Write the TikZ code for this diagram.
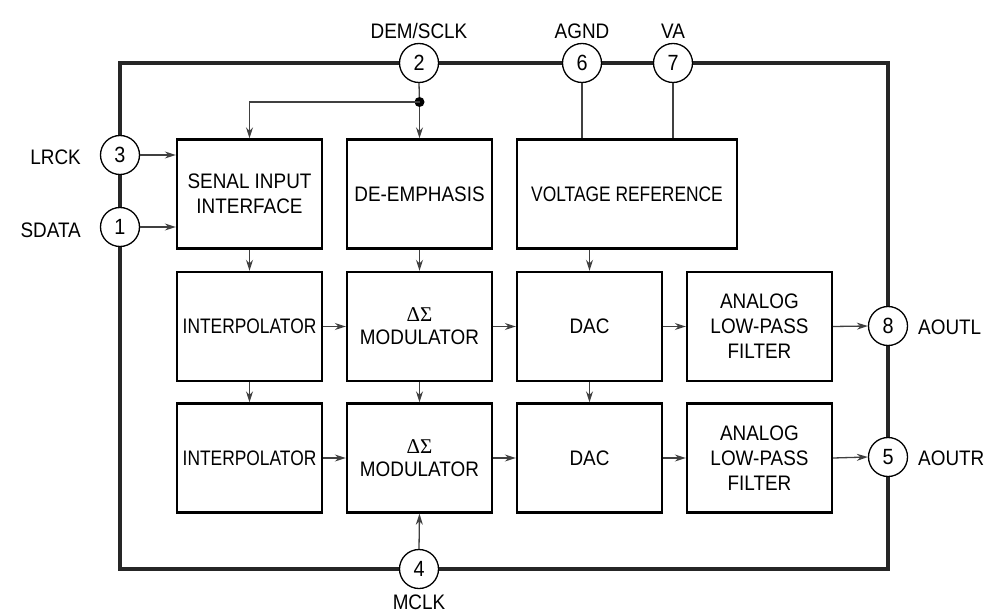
\documentclass[tikz,border=0pt]{standalone}
\usepackage{fontspec}
\setmainfont{Liberation Sans}[FakeStretch=0.9]
\newfontfamily\grk{Liberation Serif}
\usetikzlibrary{arrows.meta}
\begin{document}
\begin{tikzpicture}[x=1pt,y=-1pt,
  blk/.style={draw=black, line width=2.4pt, minimum width=145pt, minimum height=109pt, inner sep=0pt, align=center, font=\fontsize{21}{25}\selectfont, fill=white},
  pin/.style={draw=black, line width=1.3pt, circle, minimum size=39pt, inner sep=0pt, fill=white, font=\fontsize{22}{24}\selectfont},
  lbl/.style={inner sep=0pt, font=\fontsize{21}{24}\selectfont},
  arr/.style={draw=black!75, line width=1.3pt, -{Stealth[length=11pt,width=7pt]}},
  wire/.style={draw=black!75, line width=1.3pt},
  frame/.style={draw=black!85, line width=4.2pt}]
\useasboundingbox (0,0) rectangle (995,612);
\fill[white] (0,0) rectangle (995,612);
% frame
\draw[frame] (120,63) rectangle (888,569);
% pins
\node[pin] (p2) at (419,63) {2};
\node[pin] (p6) at (582,63) {6};
\node[pin] (p7) at (673,63) {7};
\node[pin] (p3) at (120,155) {3};
\node[pin] (p1) at (120,227) {1};
\node[pin] (p8) at (888,326) {8};
\node[pin] (p5) at (888,457) {5};
\node[pin] (p4) at (419,569) {4};
% pin labels
\node[lbl] (l2) at (419,31) {DEM/SCLK};
\node[lbl] (l6) at (582,31) {AGND};
\node[lbl] (l7) at (673,31) {VA};
\node[lbl, anchor=east] (l3) at (81,157) {LRCK};
\node[lbl, anchor=east] (l1) at (81,230) {SDATA};
\node[lbl, anchor=west] (l8) at (918,327) {AOUTL};
\node[lbl, anchor=west] (l5) at (918,458) {AOUTR};
\node[lbl] (l4) at (419,602) {MCLK};
% blocks
\node[blk] (sif) at (249.5,194) {SENAL INPUT\\INTERFACE};
\node[blk] (dem) at (419.5,194) {DE-EMPHASIS};
\node[blk, minimum width=220pt] (vr) at (627,194) {\scalebox{0.92}[1]{VOLTAGE REFERENCE}};
\node[blk] (int1) at (249.5,326.5) {\scalebox{0.92}[1]{INTERPOLATOR}};
\node[blk] (mod1) at (419.5,326.5) {{\grk ΔΣ}\\[-2pt]MODULATOR};
\node[blk] (dac1) at (589.5,326.5) {DAC};
\node[blk] (lpf1) at (759.5,326.5) {ANALOG\\LOW-PASS\\FILTER};
\node[blk] (int2) at (249.5,458) {\scalebox{0.92}[1]{INTERPOLATOR}};
\node[blk] (mod2) at (419.5,458) {{\grk ΔΣ}\\[-2pt]MODULATOR};
\node[blk] (dac2) at (589.5,458) {DAC};
\node[blk] (lpf2) at (759.5,458) {ANALOG\\LOW-PASS\\FILTER};
% clock distribution
\node[circle, fill=black, inner sep=0pt, minimum size=10pt] (dot) at (419.5,102) {};
\draw[wire] (p2.south) -- (dot);
\draw[arr] (dot) -- (dem.north);
\draw[arr] (dot.center) -| (sif.north);
% inputs
\draw[arr] (p3.east) -- (p3.east -| sif.west);
\draw[arr] (p1.east) -- (p1.east -| sif.west);
% reference
\draw[wire] (p6.south) -- (p6.south |- vr.north);
\draw[wire] (p7.south) -- (p7.south |- vr.north);
\draw[arr] (vr.south -| dac1.north) -- (dac1.north);
% vertical flow
\draw[arr] (sif.south) -- (int1.north);
\draw[arr] (dem.south) -- (mod1.north);
\draw[arr] (int1.south) -- (int2.north);
\draw[arr] (mod1.south) -- (mod2.north);
\draw[arr] (dac1.south) -- (dac2.north);
\draw[arr] (p4.north) -- (mod2.south);
% horizontal flow
\draw[arr] (int1.east) -- (mod1.west);
\draw[arr] (mod1.east) -- (dac1.west);
\draw[arr] (dac1.east) -- (lpf1.west);
\draw[arr] (lpf1.east) -- (p8.west);
\draw[arr] (int2.east) -- (mod2.west);
\draw[arr] (mod2.east) -- (dac2.west);
\draw[arr] (dac2.east) -- (lpf2.west);
\draw[arr] (lpf2.east) -- (p5.west);
\end{tikzpicture}
\end{document}
